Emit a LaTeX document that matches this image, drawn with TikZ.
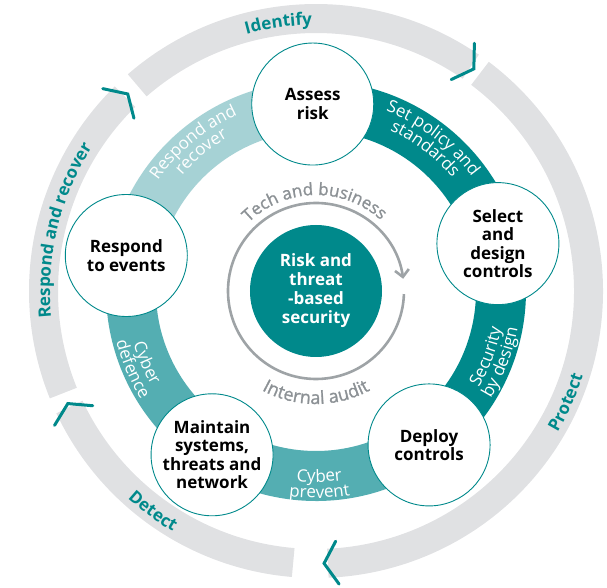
\documentclass[tikz,border=0pt]{standalone}
\usepackage{fontspec}
\setmainfont{Open Sans}
\newfontfamily\loopfont{Open Sans}[FakeBold=1.3]
\usetikzlibrary{arrows.meta, decorations.text}
\definecolor{secteal}{RGB}{0,137,139}
\definecolor{secmid}{RGB}{84,174,178}
\definecolor{seclight}{RGB}{166,210,213}
\definecolor{ringgrey}{RGB}{224,225,227}
\definecolor{loopgrey}{RGB}{158,163,166}
\definecolor{textgrey}{RGB}{140,145,149}

\tikzset{
  stage/.style={circle, draw=secteal, line width=0.9pt, fill=white, minimum size=122pt,
    inner sep=0pt, align=center, font=\fontsize{17}{18.5}\selectfont\bfseries},
  ringseg/.style={draw=ringgrey, line width=29pt},
  chevron/.style={draw=secteal, line width=3pt, line cap=round, line join=miter},
  curved/.style={decorate, decoration={text along path, text align=center, text={#1}}},
}

\begin{document}
\begin{tikzpicture}[x=1pt, y=1pt]
  \useasboundingbox (-316,-297) rectangle (291,291);

  % outer cycle: grey segments with chevrons
  \foreach \s/\e in {131/55.4, 53/-87.5, -94.8/-154.8, -158/-225.5}
    \draw[ringseg] (\s:272.5) arc[start angle=\s, end angle=\e, radius=272.5];
  \foreach \a in {133.7, 54.6, -88.3, -155.6}
    \draw[chevron] ({\a+2.8}:294) -- (\a:272.5) -- ({\a+2.8}:251);

  \path[curved={|\fontsize{17}{20}\selectfont\bfseries\color{secteal}|Identify}]
    (138:266) arc[start angle=138, end angle=58, radius=266];
  \path[curved={|\fontsize{17}{20}\selectfont\bfseries\color{secteal}|Respond and recover}]
    (206.5:266) arc[start angle=206.5, end angle=126.5, radius=266];
  \path[curved={|\fontsize{17}{20}\selectfont\bfseries\color{secteal}|Protect}]
    (-64:280) arc[start angle=-64, end angle=16, radius=280];
  \path[curved={|\fontsize{17}{20}\selectfont\bfseries\color{secteal}|Detect}]
    (-166.5:280) arc[start angle=-166.5, end angle=-86.5, radius=280];

  % coloured band between the stages
  \fill[secteal] (90:210) arc[start angle=90, end angle=-54, radius=210]
    -- (-54:160) arc[start angle=-54, end angle=90, radius=160] -- cycle;
  \fill[secmid] (-54:210) arc[start angle=-54, end angle=-191, radius=210]
    -- (-191:160) arc[start angle=-191, end angle=-54, radius=160] -- cycle;
  \fill[seclight] (169:210) arc[start angle=169, end angle=90, radius=210]
    -- (90:160) arc[start angle=90, end angle=169, radius=160] -- cycle;

  % band labels
  \path[curved={|\fontsize{17}{20}\selectfont\color{white}|Set policy and}]
    (92.5:193) arc[start angle=92.5, end angle=12.5, radius=193];
  \path[curved={|\fontsize{17}{20}\selectfont\color{white}|standards}]
    (92.5:177) arc[start angle=92.5, end angle=12.5, radius=177];
  \path[curved={|\fontsize{17}{20}\selectfont\color{white}|Respond and}]
    (169.5:193) arc[start angle=169.5, end angle=89.5, radius=193];
  \path[curved={|\fontsize{17}{20}\selectfont\color{white}|recover}]
    (169.5:177) arc[start angle=169.5, end angle=89.5, radius=177];
  \path[curved={|\fontsize{17}{20}\selectfont\color{white}|Security}]
    (-61:189) arc[start angle=-61, end angle=19, radius=189];
  \path[curved={|\fontsize{17}{20}\selectfont\color{white}|by design}]
    (-61:205) arc[start angle=-61, end angle=19, radius=205];
  \path[curved={|\fontsize{17}{20}\selectfont\color{white}|Cyber}]
    (-129:191) arc[start angle=-129, end angle=-49, radius=191];
  \path[curved={|\fontsize{17}{20}\selectfont\color{white}|prevent}]
    (-129:207) arc[start angle=-129, end angle=-49, radius=207];
  \path[curved={|\fontsize{17}{20}\selectfont\color{white}|Cyber}]
    (-197:190) arc[start angle=-197, end angle=-117, radius=190];
  \path[curved={|\fontsize{17}{20}\selectfont\color{white}|defence}]
    (-197:206) arc[start angle=-197, end angle=-117, radius=206];

  % stages
  \node[stage] (assess) at (91:187) {Assess\\risk};
  \node[stage] (select) at (14.6:188) {Select\\and\\design\\controls};
  \node[stage] (deploy) at (-53.7:191) {Deploy\\controls};
  \node[stage] (maintain) at (-122.4:194) {Maintain\\systems,\\threats and\\network};
  \node[stage] (respond) at (169.4:193) {Respond\\to events};

  % inner loop round the core
  \draw[loopgrey, line width=2.6pt, -{Straight Barb[length=7pt, width=14pt]}]
    (-2:88) arc[start angle=-2, end angle=-352, radius=88];
  \path[curved={|\loopfont\fontsize{17}{20}\selectfont\color{textgrey}|Tech and business}]
    (181:96) arc[start angle=181, end angle=1, radius=96];
  \path[curved={|\loopfont\fontsize{18}{20}\selectfont\color{textgrey}|Internal audit}]
    (-180:113) arc[start angle=-180, end angle=0, radius=113];

  \node[circle, fill=secteal, minimum size=132pt, inner sep=0pt, text=white, align=center,
    font=\fontsize{17}{19}\selectfont\bfseries] (core) at (0,0) {Risk and\\threat\\-based\\security};
\end{tikzpicture}
\end{document}
